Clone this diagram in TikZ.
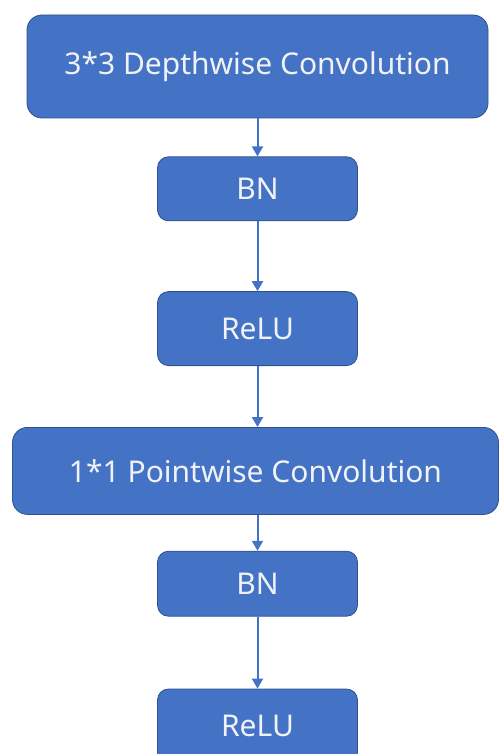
\documentclass[tikz,border=0pt]{standalone}
\usepackage{fontspec}
\setmainfont{Noto Sans}
\usetikzlibrary{positioning,arrows.meta}

\definecolor{blockfill}{RGB}{68,114,196}
\definecolor{blockline}{RGB}{47,82,143}
\definecolor{blocktext}{RGB}{240,242,248}

\tikzset{
  block/.style={draw=blockline, line width=0.8pt, fill=blockfill, text=blocktext,
    rounded corners=11pt, font=\fontsize{30}{36}\selectfont,
    minimum width=200pt, minimum height=65pt, inner sep=0pt},
  wideblock/.style={block, rounded corners=15pt},
  flow/.style={draw=blockfill, line width=2pt, -{Triangle[width=11pt,length=10pt]}}
}

\begin{document}
\begin{tikzpicture}[x=1pt,y=1pt]
      \useasboundingbox (0,0) rectangle (498,-754);
      \node [wideblock, minimum width=461pt, minimum height=103pt] (dw) at (257.5,-66.5) {3*3 Depthwise Convolution};
      \node [block, below=38pt of dw, minimum height=64pt] (bn1) {BN};
      \node [block, below=70pt of bn1, minimum height=74pt] (relu1) {ReLU};
      \node [wideblock, below=61pt of relu1, minimum width=486pt, minimum height=87pt, xshift=-2pt] (pw) {1*1 Pointwise Convolution};
      \node [block, below=36pt of pw, xshift=2pt] (bn2) {BN};
      \node [block, below=72pt of bn2, minimum height=74pt] (relu2) {ReLU};
      \draw [flow] (dw) -- (bn1);
      \draw [flow] (bn1) -- (relu1);
      \draw [flow] (relu1) -- (relu1 |- pw.north);
      \draw [flow] (bn2 |- pw.south) -- (bn2);
      \draw [flow] (bn2) -- (relu2);
    \end{tikzpicture}
\end{document}
